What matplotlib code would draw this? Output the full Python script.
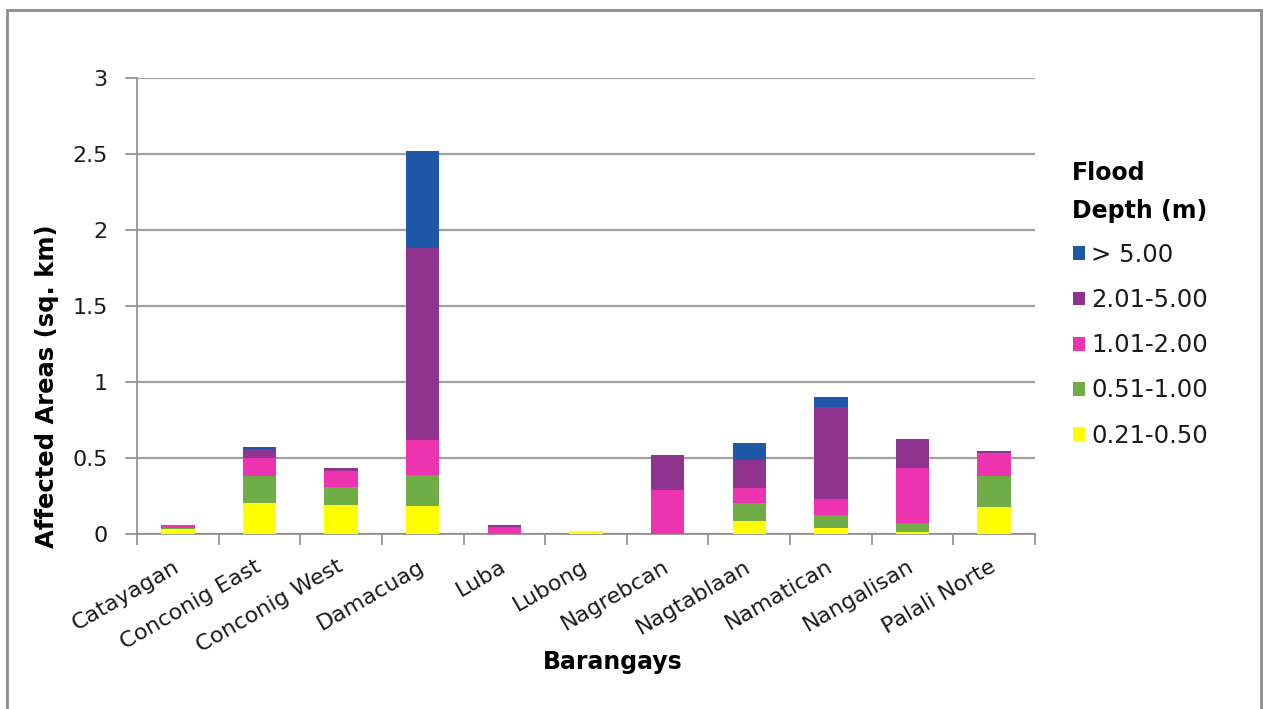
import matplotlib
matplotlib.use("Agg")
import matplotlib.pyplot as plt
import matplotlib.transforms as mtransforms
from matplotlib.patches import Rectangle
import numpy as np

plt.rcParams['font.family'] = ['DejaVu Sans']

barangays = ["Catayagan", "Conconig East", "Conconig West", "Damacuag", "Luba",
             "Lubong", "Nagrebcan", "Nagtablaan", "Namatican", "Nangalisan",
             "Palali Norte"]

# Affected area (sq. km) per flood depth class
depth_021_050 = [0.030, 0.206, 0.190, 0.183, 0.000, 0.017, 0.000, 0.083, 0.042, 0.015, 0.180]
depth_051_100 = [0.011, 0.173, 0.120, 0.203, 0.000, 0.000, 0.000, 0.123, 0.081, 0.055, 0.202]
depth_101_200 = [0.018, 0.120, 0.107, 0.231, 0.046, 0.000, 0.287, 0.094, 0.110, 0.366, 0.151]
depth_201_500 = [0.003, 0.061, 0.015, 1.265, 0.011, 0.000, 0.230, 0.190, 0.602, 0.189, 0.011]
depth_over_5 = [0.000, 0.011, 0.000, 0.635, 0.000, 0.000, 0.000, 0.107, 0.065, 0.000, 0.000]

series = [
    ("0.21-0.50", depth_021_050, "#ffff00"),
    ("0.51-1.00", depth_051_100, "#70ad47"),
    ("1.01-2.00", depth_101_200, "#ee33b0"),
    ("2.01-5.00", depth_201_500, "#8e348f"),
    ("> 5.00", depth_over_5, "#2058a8"),
]

text_color = '#1a1a1a'

fig = plt.figure(figsize=(12.63, 7.09), dpi=100)
ax = fig.add_axes([0.1085, 0.2468, 0.7110, 0.6432])

x = np.arange(len(barangays))
bottom = np.zeros(len(barangays))
handles = []
for label, vals, color in series:
    vals = np.array(vals)
    b = ax.bar(x, vals, width=0.41, bottom=bottom, color=color, label=label,
               edgecolor='none', zorder=3)
    handles.append(b)
    bottom += vals

ax.set_ylim(0, 3)
ax.set_xlim(-0.5, len(barangays) - 0.5)
ax.set_yticks(np.arange(0, 3.01, 0.5))
ax.set_yticklabels(["0", "0.5", "1", "1.5", "2", "2.5", "3"], fontsize=16,
                   color=text_color)
ax.yaxis.grid(True, color='#a0a0a0', linewidth=1.6, zorder=0)
ax.set_axisbelow(True)

for s in ['top', 'right']:
    ax.spines[s].set_visible(False)
ax.spines['left'].set_color('#8c8c8c')
ax.spines['bottom'].set_color('#8c8c8c')
ax.spines['left'].set_linewidth(1.2)
ax.spines['bottom'].set_linewidth(1.2)
ax.tick_params(axis='y', length=9, width=1.2, color='#8c8c8c', pad=12)

# category labels centred on bars, tick marks between categories
ax.set_xticks(x)
ax.set_xticklabels(barangays, rotation=30, ha='right', rotation_mode='anchor',
                   fontsize=16, color=text_color)
ax.tick_params(axis='x', length=0, pad=16)
shift = mtransforms.ScaledTranslation(-5 / 100, 0, fig.dpi_scale_trans)
for lbl in ax.get_xticklabels():
    lbl.set_transform(lbl.get_transform() + shift)
ax.set_xticks(np.arange(-0.5, len(barangays), 1.0), minor=True)
ax.tick_params(axis='x', which='minor', length=8, width=1.2, color='#8c8c8c')

fig.text(0.0375, 0.4556, "Affected Areas (sq. km)", fontsize=17.5, fontweight='bold',
         rotation=90, ha='center', va='center')
fig.text(0.485, 0.066, "Barangays", fontsize=17, fontweight='bold',
         ha='center', va='center')

leg = fig.legend(handles[::-1], [s[0] for s in series][::-1],
                 loc='upper left', bbox_to_anchor=(0.842, 0.671),
                 frameon=False, fontsize=17.5, handlelength=0.5, handleheight=0.5,
                 handletextpad=0.25, labelspacing=0.87, borderaxespad=0)
for t in leg.get_texts():
    t.set_color(text_color)
fig.text(0.849, 1 - 173 / 709, "Flood", fontsize=17, fontweight='bold',
         ha='left', va='center')
fig.text(0.849, 1 - 211 / 709, "Depth (m)", fontsize=17, fontweight='bold',
         ha='left', va='center')

fig.patches.append(Rectangle((0.0055, -0.02), 0.993, 1.006, transform=fig.transFigure,
                             fill=False, edgecolor='#8c8c8c', linewidth=2.0))

fig.savefig("out.png", dpi=100)
